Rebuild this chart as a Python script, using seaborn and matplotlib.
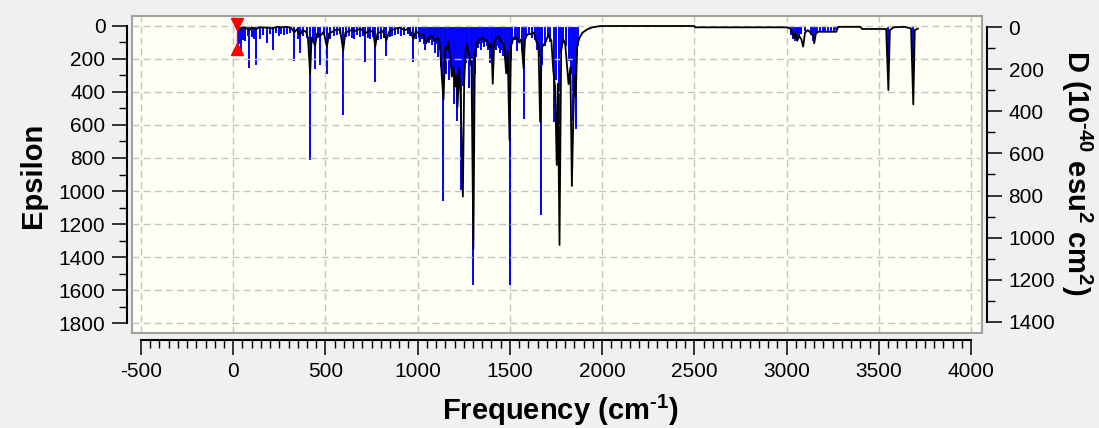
import numpy as np
import matplotlib
matplotlib.use('Agg')
import matplotlib.pyplot as plt
import seaborn as sns
from matplotlib.patches import Rectangle
from matplotlib.ticker import MultipleLocator, FixedLocator

# ---------------- data ----------------
# stick spectrum: frequency (cm-1) and dipole strength D (1e-40 esu^2 cm^2)
low_freq = [25, 33, 40, 52, 65, 78, 88, 103, 114, 125,
            143, 161, 183, 198, 213, 230, 246, 260, 273, 290,
            310, 331, 349, 363, 380, 398, 417, 430, 444, 458,
            472, 490, 508, 526, 545, 565, 580, 596, 612, 628,
            642, 655, 670, 690, 703, 715, 728, 742, 756, 770,
            785, 800, 815, 831, 848, 862, 878, 895, 912, 928,
            945, 960, 977, 992]
low_D = [100, 80, 114, 60, 66, 40, 192, 45, 55, 177,
         58, 35, 74, 30, 106, 25, 43, 30, 35, 30,
         25, 161, 58, 121, 40, 50, 630, 60, 200, 50,
         177, 35, 224, 55, 40, 35, 30, 418, 45, 40,
         50, 55, 35, 45, 40, 164, 50, 55, 45, 259,
         60, 55, 50, 137, 45, 40, 35, 30, 40, 35,
         30, 40, 164, 55]

mid_freq = [1005, 1015, 1025, 1033, 1041, 1050, 1059, 1068, 1077, 1086,
            1095, 1104, 1112, 1120, 1128, 1140, 1148, 1156, 1164, 1172,
            1180, 1188, 1196, 1204, 1212, 1220, 1228, 1236, 1244, 1252,
            1260, 1268, 1279, 1287, 1295, 1302, 1310, 1318, 1326, 1334,
            1342, 1350, 1358, 1366, 1374, 1382, 1393, 1401, 1409, 1417,
            1425, 1433, 1441, 1449, 1457, 1465, 1473, 1481, 1489, 1498,
            1506, 1514, 1525, 1536, 1548, 1563, 1574, 1590, 1605, 1620,
            1635, 1648, 1656, 1666, 1675, 1690, 1705, 1720, 1738, 1750,
            1764, 1775, 1790, 1805, 1818, 1830, 1842, 1850, 1858, 1868]
mid_D = [50, 70, 55, 80, 106, 65, 74, 60, 85, 70,
         121, 80, 140, 110, 190, 826, 160, 220, 150, 250,
         190, 230, 366, 260, 445, 300, 220, 776, 280, 200,
         170, 150, 287, 180, 200, 1225, 220, 140, 100, 80,
         110, 75, 95, 70, 90, 110, 169, 120, 140, 100,
         110, 90, 100, 120, 110, 135, 150, 170, 200, 1225,
         160, 80, 60, 113, 70, 113, 437, 40, 35, 50,
         60, 110, 140, 894, 180, 90, 50, 70, 452, 250,
         576, 120, 60, 90, 160, 220, 445, 280, 484, 90]

high_freq = [3025, 3035, 3045, 3055, 3065, 3080, 3100, 3130, 3142, 3152,
             3165, 3180, 3195, 3210, 3225, 3240, 3255, 3270, 3552, 3687]
high_D = [35, 55, 66, 50, 40, 30, 20, 35, 66, 40,
          25, 22, 22, 20, 22, 20, 18, 15, 177, 208]

stick_freq = low_freq + mid_freq + high_freq
stick_D = low_D + mid_D + high_D

# broadened spectrum: frequency (cm-1) and epsilon
spec_freq = [15, 25, 33, 40, 48, 65, 88, 100, 125, 140,
             183, 213, 235, 260, 290, 315, 331, 345, 363, 375,
             395, 405, 417, 425, 444, 455, 472, 490, 508, 520,
             545, 565, 580, 596, 608, 640, 660, 690, 715, 740,
             760, 770, 782, 810, 831, 845, 870, 900, 930, 955,
             977, 990, 1005, 1020, 1030, 1046, 1060, 1075, 1095, 1110,
             1120, 1131, 1140, 1150, 1158, 1166, 1178, 1185, 1195, 1203,
             1210, 1216, 1225, 1232, 1245, 1252, 1260, 1267, 1280, 1292,
             1302, 1310, 1320, 1335, 1350, 1362, 1375, 1390, 1400, 1407,
             1415, 1428, 1441, 1455, 1468, 1480, 1488, 1498, 1506, 1520,
             1536, 1550, 1562, 1574, 1582, 1595, 1607, 1630, 1645, 1655,
             1664, 1672, 1693, 1710, 1725, 1735, 1745, 1754, 1760, 1769,
             1778, 1789, 1800, 1818, 1828, 1836, 1844, 1850, 1857, 1865,
             1876, 1894, 1920, 1948, 1980, 2000, 2500, 2505, 3000, 3020,
             3030, 3040, 3048, 3058, 3068, 3080, 3090, 3100, 3115, 3130,
             3145, 3150, 3158, 3168, 3270, 3280, 3400, 3410, 3540, 3552,
             3560, 3580, 3640, 3675, 3687, 3695, 3713]
spec_eps = [0, 15, 10, 25, 8, 10, 25, 8, 20, 8,
            10, 15, 5, 8, 5, 12, 40, 20, 55, 25,
            35, 70, 290, 70, 120, 45, 60, 35, 125, 45,
            30, 20, 25, 150, 40, 25, 30, 15, 45, 25,
            40, 125, 45, 30, 85, 35, 20, 10, 25, 15,
            80, 30, 45, 60, 50, 105, 70, 60, 90, 70,
            100, 307, 448, 130, 145, 95, 200, 307, 250, 368,
            300, 489, 260, 400, 1034, 350, 145, 110, 180, 250,
            1353, 170, 100, 80, 70, 90, 85, 130, 110, 350,
            100, 70, 65, 100, 110, 287, 150, 691, 120, 70,
            70, 100, 80, 256, 80, 50, 50, 40, 100, 120,
            580, 130, 100, 50, 90, 267, 368, 842, 350, 1327,
            150, 80, 110, 352, 250, 970, 550, 300, 430, 120,
            75, 40, 20, 8, 2, 0, 0, 8, 8, 15,
            40, 70, 40, 90, 60, 80, 125, 40, 25, 40,
            60, 105, 50, 35, 35, 5, 5, 18, 18, 388,
            25, 8, 5, 15, 475, 25, 15]

# selection marker (red)
marker_freq = 20
marker_eps = [-12, 142]

x_major = [-500, 0, 500, 1000, 1500, 2000, 2500, 3000, 3500, 4000]

# ---------------- styling ----------------
sns.set_style('ticks')
plt.rcParams['font.family'] = ['Liberation Sans', 'DejaVu Sans']
plt.rcParams['axes.unicode_minus'] = False
plt.rcParams['mathtext.fontset'] = 'custom'
plt.rcParams['mathtext.rm'] = 'Liberation Sans:bold'
plt.rcParams['mathtext.bf'] = 'Liberation Sans:bold'
plt.rcParams['mathtext.default'] = 'bf'
plt.rcParams['text.color'] = 'black'
plt.rcParams['axes.labelcolor'] = 'black'
plt.rcParams['xtick.color'] = 'black'
plt.rcParams['ytick.color'] = 'black'

W, H = 1099, 428
fig = plt.figure(figsize=(W / 100, H / 100), dpi=100, facecolor='#F0F0F0')
ax = fig.add_axes([132 / W, 1 - 333 / H, 850 / W, 317 / H])
ax.set_facecolor('#FFFFF5')
ax2 = ax.twinx()

# sticks on D axis
ax.vlines(stick_freq, 0, stick_D, color='#0000FF', lw=1.4, zorder=2)

# spectrum on epsilon axis
sns.lineplot(x=spec_freq, y=spec_eps, ax=ax2, color='black', lw=1.3,
             estimator=None, sort=False, zorder=3)

# red marker
ax2.vlines([marker_freq], marker_eps[0], marker_eps[1], color='red', lw=1.0, zorder=4)
ax2.plot([marker_freq], [marker_eps[0]], marker='v', ms=8, color='red', ls='none', zorder=4)
ax2.plot([marker_freq], [marker_eps[1]], marker='^', ms=8, color='red', ls='none', zorder=4)

# limits
ax.set_xlim(-548.8, 4059.6)
ax.set_ylim(1453.7, -53.7)
ax2.set_ylim(1860.6, -60.6)

# ticks
ax.xaxis.set_major_locator(FixedLocator(x_major))
ax.xaxis.set_minor_locator(FixedLocator(np.arange(-500, 4001, 50)))
ax.yaxis.set_major_locator(MultipleLocator(200))
ax.yaxis.set_minor_locator(MultipleLocator(100))
ax2.yaxis.set_major_locator(MultipleLocator(200))
ax2.yaxis.set_minor_locator(MultipleLocator(100))

ax.yaxis.tick_right()
ax2.yaxis.tick_left()

ax.tick_params(axis='x', which='major', direction='out', length=11, width=1.1,
               labelsize=15, pad=5, colors='black')
ax.tick_params(axis='x', which='minor', direction='out', length=6, width=1.0, colors='black')
ax.tick_params(axis='y', which='major', direction='out', length=10.5, width=1.1,
               labelsize=15, pad=5, left=False, right=True, labelleft=False,
               labelright=True, colors='black')
ax.tick_params(axis='y', which='minor', direction='out', length=6, width=1.0,
               left=False, right=True, colors='black')
ax2.tick_params(axis='y', which='major', direction='out', length=10.5, width=1.1,
                labelsize=15, pad=5, left=True, right=False, labelleft=True,
                labelright=False, colors='black')
ax2.tick_params(axis='y', which='minor', direction='out', length=6, width=1.0,
                left=True, right=False, colors='black')

# spines
for s in ['top', 'left']:
    ax.spines[s].set_visible(False)
for s in ['top', 'right', 'bottom']:
    ax2.spines[s].set_visible(False)
ax.spines['bottom'].set_position(('outward', 5))
ax.spines['bottom'].set_bounds(-500, 4000)
ax.spines['right'].set_position(('outward', 3.6))
ax.spines['right'].set_bounds(0, 1400)
ax2.spines['left'].set_position(('outward', 3.6))
ax2.spines['left'].set_bounds(0, 1800)
for sp in [ax.spines['bottom'], ax.spines['right'], ax2.spines['left']]:
    sp.set_linewidth(1.5)
    sp.set_color('black')

# plot frame
ax.add_patch(Rectangle((0, 0), 1, 1, transform=ax.transAxes, fill=False,
                       ec='#A0A0A0', lw=1.5, clip_on=False, zorder=6))

# grids
grid_kw = dict(color='#C4C4C4', ls=(0, (5, 3)), lw=1.0)
ax.set_axisbelow(True)
ax.grid(axis='x', which='major', **grid_kw)
ax.grid(axis='y', which='both', visible=False)
ax2.set_axisbelow(True)
ax2.grid(axis='y', which='major', **grid_kw)

# labels (hyphen U+2010 used for the superscript minus, as in the original)
ax.set_xlabel('Frequency (cm$^{\u20101}$)', fontsize=21, fontweight='bold', color='black')
ax.xaxis.label.set_va('center')
ax.xaxis.set_label_coords(560 / W, 1 - 410 / H, transform=fig.transFigure)

ax2.set_ylabel('Epsilon', fontsize=21, fontweight='bold', rotation=90, color='black')
ax2.yaxis.label.set_va('center')
ax2.yaxis.set_label_coords(33 / W, 1 - 175 / H, transform=fig.transFigure)

ax.set_ylabel('D (10$^{\u201040}$ esu$^{2}$ cm$^{2}$)', fontsize=21, fontweight='bold',
              rotation=270, color='black')
ax.yaxis.label.set_va('center')
ax.yaxis.set_label_coords(1077 / W, 1 - 173 / H, transform=fig.transFigure)

fig.savefig('out.png', dpi=100, facecolor=fig.get_facecolor())
